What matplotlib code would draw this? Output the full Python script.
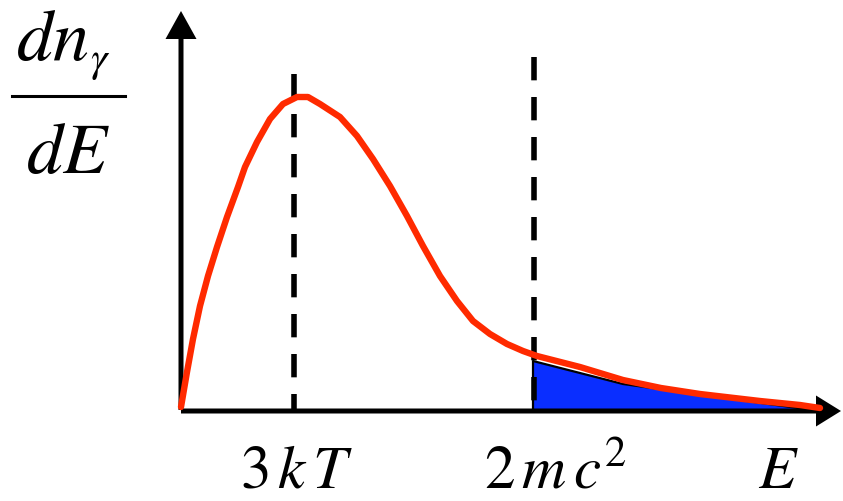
import numpy as np
import matplotlib.pyplot as plt

plt.rcParams['mathtext.fontset'] = 'stix'

# photon spectrum (arbitrary units)
energy = [0.0, 0.06, 0.12, 0.19, 0.27, 0.36, 0.46, 0.57, 0.64, 0.76, 0.89, 1.02,
          1.16, 1.27, 1.39, 1.59, 1.76, 1.92, 2.09, 2.26, 2.42, 2.59, 2.76, 2.92,
          3.09, 3.26, 3.42, 3.56, 3.99, 4.42, 4.80, 5.19, 5.79, 6.19, 6.39]
dn_dE = [0.03, 0.38, 0.71, 1.04, 1.34, 1.63, 1.93, 2.23, 2.43, 2.68, 2.91, 3.06,
         3.13, 3.13, 3.06, 2.93, 2.74, 2.51, 2.24, 1.94, 1.64, 1.34, 1.09, 0.89,
         0.76, 0.66, 0.59, 0.54, 0.43, 0.30, 0.22, 0.16, 0.09, 0.05, 0.02]

# shaded pair-production tail (black outline of the polygon)
tail_E = [3.52, 4.42, 6.24]
tail_n = [0.49, 0.26, 0.01]

# marker lines
peak_E, peak_top = 1.13, 3.36
pair_E, pair_top = 3.53, 3.53

red = '#FF2A00'
blue = '#0A2EFF'

fig = plt.figure(figsize=(8.43, 5.02), dpi=100)
ax = fig.add_axes([0, 0, 1, 1])
ax.set_xlim(-1.81, 6.62)
ax.set_ylim(-0.91, 4.11)
ax.set_aspect('equal')
ax.axis('off')

# filled tail
ax.fill_between(tail_E, tail_n, 0, color=blue, lw=0)
ax.plot([tail_E[0]] + tail_E, [0] + tail_n, color='k', lw=1.6)

# dashed lines at 3kT and 2mc^2
for xe, top in [(peak_E, peak_top), (pair_E, pair_top)]:
    ax.plot([xe, xe], [top, 0], color='k', lw=4.0, dashes=(4.2, 3.0),
            solid_capstyle='butt', dash_capstyle='butt')

# axes with arrow heads
ax.arrow(0.0, 0.0, 0.0, 3.99, width=0.05, head_width=0.31, head_length=0.28,
         length_includes_head=True, color='k', lw=0)
ax.arrow(0.0, -0.01, 6.60, 0.0, width=0.05, head_width=0.31, head_length=0.25,
         length_includes_head=True, color='k', lw=0)

# spectrum
ax.plot(energy, dn_dE, color=red, lw=4.6, solid_joinstyle='round',
        solid_capstyle='round')

# labels
ax.text(-1.65, 3.51, r'$dn$', fontsize=52, ha='left', va='baseline')
ax.text(-0.81, 3.40, r'$\gamma$', fontsize=30, ha='center', va='baseline')
ax.plot([-1.69, -0.56], [3.14, 3.14], color='k', lw=2.2)
ax.text(-1.13, 2.38, r'$dE$', fontsize=52, ha='center', va='baseline')

ax.text(1.16, -0.77, r'$3\,k\,T$', fontsize=44, ha='center', va='baseline')
ax.text(3.74, -0.77, r'$2\,m\,c^2$', fontsize=44, ha='center', va='baseline')
ax.text(5.97, -0.77, r'$E$', fontsize=44, ha='center', va='baseline')

plt.savefig('out.png', dpi=100)
